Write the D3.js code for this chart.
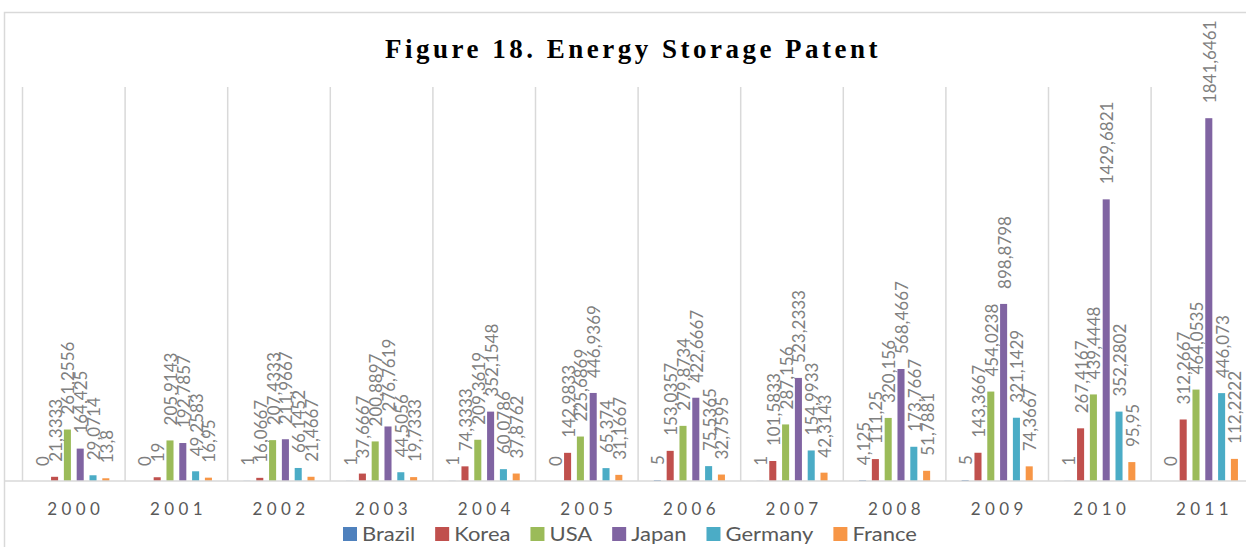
<!DOCTYPE html>
<html>
<head>
<meta charset="utf-8">
<script src="https://cdn.jsdelivr.net/npm/d3@7"></script>
<style>
  body { margin: 0; background: #fff; }
  svg { display: block; overflow: visible; }
</style>
</head>
<body>
<svg id="chart" width="1246" height="547"></svg>
<script>
// Energy storage patents by country, 2000-2011

const years = ['2000', '2001', '2002', '2003', '2004', '2005', '2006', '2007', '2008', '2009', '2010', '2011'];
const countries = ['Brazil', 'Korea', 'USA', 'Japan', 'Germany', 'France'];
const colors = ['#4f81bd', '#c0504d', '#9bbb59', '#8064a2', '#4bacc6', '#f79646'];

const brazil = [0, 0, 1, 1, 1, 0, 5, 1, 4.125, 5, 1, 0];
const korea = [21.3333, 19, 16.0667, 37.6667, 74.3333, 142.9833, 153.0357, 101.5833, 111.25, 143.3667, 267.4167, 312.2667];
const usa = [261.2556, 205.9143, 207.4333, 200.8897, 209.3619, 225.6869, 279.8734, 287.156, 320.156, 454.0238, 439.4448, 464.0535];
const japan = [164.425, 192.7857, 211.9667, 276.7619, 352.1548, 446.9369, 422.6667, 523.2333, 568.4667, 898.8798, 1429.6821, 1841.6461];
const germany = [29.0714, 49.2583, 66.1452, 44.5056, 60.0786, 65.374, 75.5365, 154.9933, 173.7667, 321.1429, 352.2802, 446.073];
const france = [13.8, 16.95, 21.4667, 19.7333, 37.8762, 31.1667, 32.7595, 42.3143, 51.7881, 74.3667, 95.95, 112.2222];

const seriesValues = [brazil, korea, usa, japan, germany, france];

const svg = d3.select('#chart');
const W = 1246, H = 547;
const plot = { left: 22.5, right: 1253.7, top: 87, bottom: 481 };

// outer frame
svg.append('path')
  .attr('d', `M4.5,${H} V12.5 H${W}`)
  .attr('fill', 'none')
  .attr('stroke', '#d9d9d9')
  .attr('stroke-width', 1.5);

svg.append('text')
  .attr('x', 633)
  .attr('y', 58)
  .attr('text-anchor', 'middle')
  .attr('font-family', 'Liberation Serif')
  .attr('font-weight', 'bold')
  .attr('font-size', 27)
  .attr('letter-spacing', 3.5)
  .attr('fill', '#000')
  .text('Figure 18. Energy Storage Patent');

let x = d3.scaleBand()
  .domain(years)
  .range([plot.left, plot.right]);

let x1 = d3.scaleBand()
  .domain(countries)
  .range([0, x.bandwidth()])
  .paddingInner(0.45)
  .paddingOuter(1.23);

let y = d3.scaleLinear().domain([0, 2000]).range([plot.bottom, plot.top]);

let color = d3.scaleOrdinal().domain(countries).range(colors);

// category separators
svg.append('g')
  .selectAll('line')
  .data(years)
  .join('line')
  .attr('x1', d => x(d))
  .attr('x2', d => x(d))
  .attr('y1', plot.top)
  .attr('y2', plot.bottom)
  .attr('stroke', '#d9d9d9')
  .attr('stroke-width', 1.5);

let table = [];
years.forEach((yr, i) => {
  countries.forEach((c, j) => {
    table.push({ year: yr, country: c, value: seriesValues[j][i] });
  });
});

svg.append('g')
  .selectAll('rect')
  .data(table)
  .join('rect')
  .attr('x', d => x(d.year) + x1(d.country))
  .attr('width', x1.bandwidth())
  .attr('y', d => y(d.value))
  .attr('height', d => y(0) - y(d.value))
  .attr('fill', d => color(d.country));

// baseline
svg.append('line')
  .attr('x1', plot.left - 18)
  .attr('x2', W)
  .attr('y1', plot.bottom)
  .attr('y2', plot.bottom)
  .attr('stroke', '#d9d9d9')
  .attr('stroke-width', 1.5);

const fmt = v => String(v).replace('.', ',');

svg.append('g')
  .selectAll('text')
  .data(table)
  .join('text')
  .attr('transform', d => {
    let cx = x(d.year) + x1(d.country) + x1.bandwidth() / 2 + 1;
    let cy = y(d.value) - 15;
    return 'translate(' + cx + ',' + cy + ') rotate(-90)';
  })
  .attr('dy', '0.35em')
  .attr('font-family', 'Lato')
  .attr('font-size', 17)
  .attr('fill', '#7f7f7f')
  .text(d => fmt(d.value));

// category labels
let xAxis = svg.append('g')
  .attr('transform', 'translate(0,' + plot.bottom + ')')
  .call(d3.axisBottom(x).tickSize(0).tickPadding(22));
xAxis.select('.domain').remove();
xAxis.selectAll('text')
  .attr('font-family', 'Lato')
  .attr('font-size', 17)
  .attr('letter-spacing', 4.4)
  .attr('fill', '#595959')
  .attr('dx', 2);

// legend
let legend = svg.append('g').attr('transform', 'translate(0,534)');
let lx = 343;
const stretch = 1.1;
countries.forEach((c, i) => {
  let item = legend.append('g').attr('transform', 'translate(' + lx + ',0)');
  item.append('rect')
    .attr('x', 0).attr('y', -7)
    .attr('width', 14).attr('height', 14)
    .attr('fill', color(c));
  let t = item.append('text')
    .attr('transform', 'translate(19,0) scale(' + stretch + ',1)')
    .attr('dy', '0.35em')
    .attr('font-family', 'Lato')
    .attr('font-size', 20)
    .attr('fill', '#595959')
    .text(c);
  lx += 19 + t.node().getComputedTextLength() * stretch + 20;
});
</script>
</body>
</html>
